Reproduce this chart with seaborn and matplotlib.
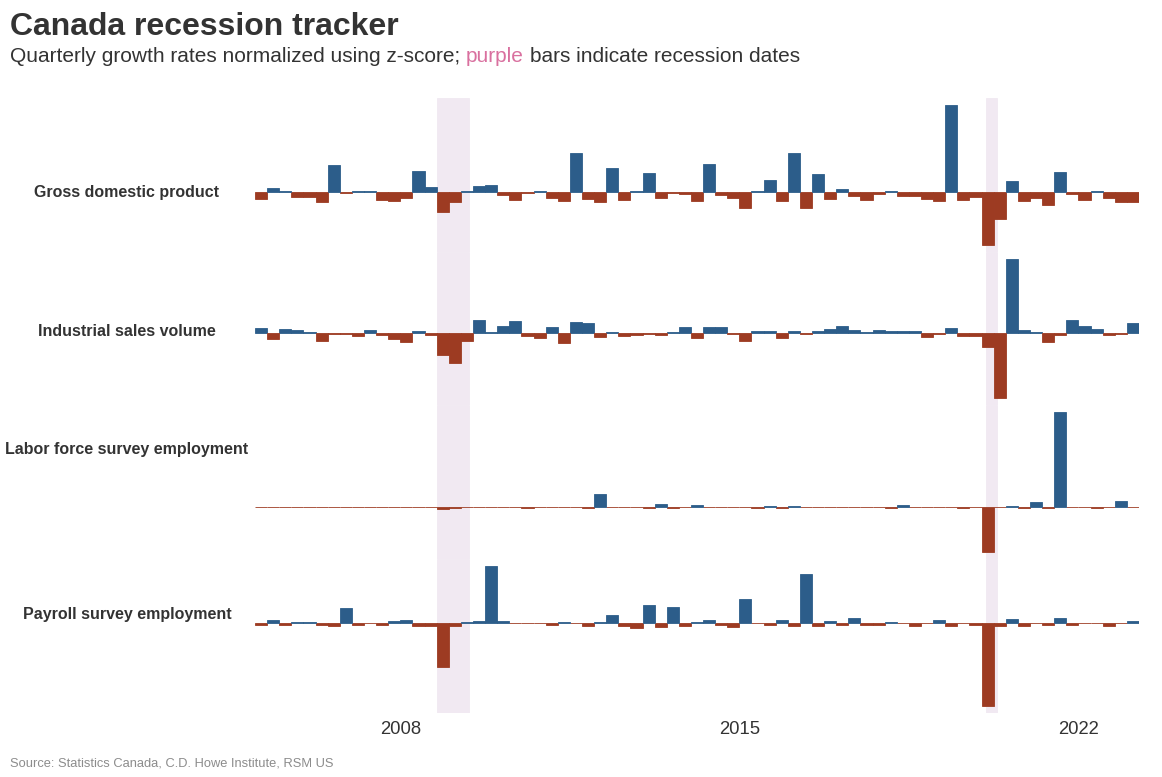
import pandas as pd
import matplotlib.pyplot as plt
import seaborn as sns

# quarterly growth rates, z-scores (2005Q1 .. 2023Q1)
quarters = pd.period_range("2005Q1", "2023Q1", freq="Q")

gdp = [-0.7, 0.4, 0.1, -0.5, -0.5, -1.0, 2.7, -0.1, 0.1, 0.1,
       -0.8, -0.9, -0.6, 2.1, 0.5, -2.0, -1.0, 0.1, 0.6, 0.7,
       -0.3, -0.8, -0.1, 0.1, -0.6, -0.9, 3.9, -0.7, -1.0, 2.4,
       -0.8, 0.1, 1.9, -0.6, -0.1, -0.2, -0.9, 2.8, -0.3, -0.6,
       -1.6, 0.1, 1.2, -0.9, 3.9, -1.6, 1.8, -0.7, 0.3, -0.4,
       -0.8, -0.2, 0.1, -0.4, -0.4, -0.7, -0.9, 8.7, -0.8, -0.5,
       -5.3, -2.7, 1.1, -0.9, -0.6, -1.3, 2.0, -0.2, -0.8, 0.1,
       -0.6, -1.0, -1.0]

industrial_sales = [0.5, -0.6, 0.4, 0.3, 0.1, -0.8, -0.1, -0.1, -0.3, 0.3,
                    -0.2, -0.6, -0.9, 0.2, -0.2, -2.2, -3.0, -0.8, 1.3, 0.1,
                    0.7, 1.2, -0.3, -0.5, 0.6, -1.0, 1.1, 1.0, -0.4, 0.1,
                    -0.3, -0.2, -0.1, -0.2, 0.1, 0.6, -0.5, 0.6, 0.6, -0.1,
                    -0.8, 0.2, 0.2, -0.5, 0.2, -0.1, 0.2, 0.4, 0.7, 0.3,
                    0.1, 0.3, 0.2, 0.2, 0.2, -0.4, -0.1, 0.5, -0.3, -0.3,
                    -1.4, -6.5, 7.5, 0.3, 0.1, -0.9, -0.2, 1.3, 0.7, 0.4,
                    -0.2, -0.1, 1.0]

lfs_employment = [-0.05, -0.05, -0.05, -0.05, -0.05, -0.05, -0.05, -0.05, -0.05, -0.05,
                  -0.05, -0.05, -0.05, -0.05, -0.05, -0.25, -0.15, -0.05, -0.05, -0.05,
                  -0.05, -0.05, -0.15, -0.05, -0.05, -0.05, -0.05, -0.15, 1.3, -0.05,
                  -0.05, -0.05, -0.15, 0.25, -0.15, -0.05, 0.15, -0.05, -0.05, -0.05,
                  -0.05, -0.15, 0.05, -0.15, 0.05, -0.05, -0.05, -0.05, -0.05, -0.05,
                  -0.05, -0.05, -0.15, 0.15, -0.05, -0.05, -0.05, -0.05, -0.15, -0.05,
                  -4.5, -0.05, 0.05, -0.15, 0.45, -0.15, 9.4, -0.05, -0.05, -0.15,
                  -0.05, 0.55, -0.05]

payroll_employment = [-0.2, 0.3, -0.2, 0.05, 0.1, -0.2, -0.3, 1.5, -0.2, -0.05,
                      -0.2, 0.15, 0.3, -0.3, -0.3, -4.4, -0.3, 0.05, 0.15, 5.7,
                      0.15, -0.05, -0.05, -0.05, -0.2, 0.1, -0.05, -0.3, 0.05, 0.75,
                      -0.3, -0.5, 1.75, -0.4, 1.55, -0.3, 0.1, 0.27, -0.2, -0.4,
                      2.35, -0.05, -0.2, 0.27, -0.3, 4.85, -0.3, 0.15, -0.2, 0.45,
                      -0.2, -0.2, 0.1, -0.05, -0.3, -0.05, 0.27, -0.3, -0.05, -0.2,
                      -8.3, -0.3, 0.35, -0.3, -0.05, -0.2, 0.45, -0.2, -0.05, -0.05,
                      -0.3, -0.05, 0.15]

series_names = ["Gross domestic product", "Industrial sales volume",
                "Labor force survey employment", "Payroll survey employment"]
series_values = [gdp, industrial_sales, lfs_employment, payroll_employment]

recession_start = ["2008-10-01", "2020-02-01"]
recession_end = ["2009-05-31", "2020-04-30"]

tick_years = [2008, 2015, 2022]

BLUE = "#2c5d8a"
RED = "#9d3b22"
SHADE = "#f1e9f2"
PINK = "#d9709f"
DARK = "#333333"


def decimal_year(date):
    d = pd.Timestamp(date)
    days = 366 if d.is_leap_year else 365
    return d.year + (d.dayofyear - 1) / days


# bar sits on the middle of its quarter
x_mid = [q.year + (q.quarter - 1) / 4 + 0.125 for q in quarters]

frames = []
for name, vals in zip(series_names, series_values):
    frames.append(pd.DataFrame({
        "series": name,
        "x": x_mid,
        "value": vals,
        "sign": ["pos" if v >= 0 else "neg" for v in vals],
    }))
df = pd.concat(frames, ignore_index=True)

sns.set_theme(style="white")
plt.rcParams["font.family"] = ["Liberation Sans", "DejaVu Sans"]

W, H = 1162, 777
fig = plt.figure(figsize=(W / 100, H / 100), dpi=100)
left, right = 255 / W, 1139 / W
top, bottom = 1 - 98 / H, 1 - 712.5 / H
gs = fig.add_gridspec(4, 1, left=left, right=right, top=top, bottom=bottom, hspace=0)
axes = [fig.add_subplot(gs[i]) for i in range(4)]

for ax, name in zip(axes, series_names):
    for s, e in zip(recession_start, recession_end):
        ax.axvspan(decimal_year(s), decimal_year(e), color=SHADE, lw=0, zorder=0)
    sub = df[df["series"] == name]
    sns.barplot(data=sub, x="x", y="value", hue="sign",
                palette={"pos": BLUE, "neg": RED}, native_scale=True,
                width=1, dodge=False, errorbar=None, legend=False,
                saturation=1, ax=ax, zorder=2)
    for p in ax.patches:
        p.set_edgecolor(p.get_facecolor())
        p.set_linewidth(0.6)
    ax.set_xlim(2005, 2023.25)
    ax.set_yticks([])
    ax.set_xlabel("")
    ax.set_ylabel("")
    sns.despine(ax=ax, left=True, bottom=True)
    ax.set_xticks(tick_years)
    ax.tick_params(axis="x", length=0, pad=6, labelsize=13.3, labelcolor=DARK)
    if ax is not axes[-1]:
        ax.set_xticklabels([])
    else:
        ax.set_xticklabels([str(y) for y in tick_years])

# row labels on the left
label_y = [196.7, 335.7, 453.7, 618.7]
for name, yy in zip(series_names, label_y):
    fig.text(127 / W, 1 - yy / H, name, ha="center", va="baseline",
             fontsize=11.5, fontweight="bold", color=DARK)

fig.text(10 / W, 1 - 35 / H, "Canada recession tracker", fontsize=23,
         fontweight="bold", color=DARK, va="baseline")
t1 = fig.text(10 / W, 1 - 62 / H, "Quarterly growth rates normalized using z-score;",
              fontsize=15, color=DARK, va="baseline")
t2 = axes[0].annotate("purple", xy=(1, 0), xycoords=t1, xytext=(4.2, 0),
                      textcoords="offset points", fontsize=15, color=PINK,
                      va="bottom", ha="left")
axes[0].annotate("bars indicate recession dates", xy=(1, 0), xycoords=t2,
                 xytext=(4.2, 0), textcoords="offset points", fontsize=15,
                 color=DARK, va="bottom", ha="left")

fig.text(10 / W, 1 - 766 / H, "Source: Statistics Canada, C.D. Howe Institute, RSM US",
         fontsize=9.3, color="#8c8c8c", va="baseline")

fig.savefig("out.png", dpi=100)
